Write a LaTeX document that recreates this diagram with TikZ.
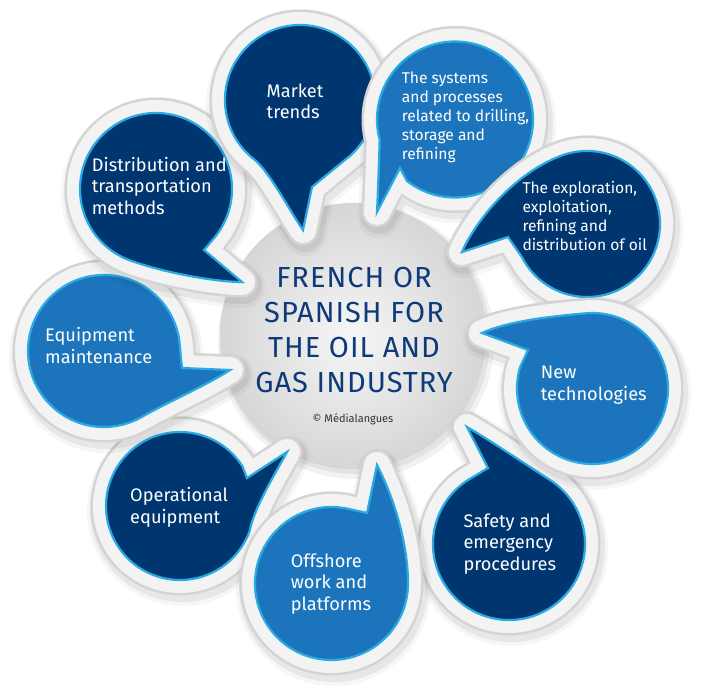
\documentclass[tikz,border=0pt]{standalone}
\usepackage{fontspec}
\setmainfont{Fira Sans}
\usetikzlibrary{calc}
\definecolor{navy}{RGB}{0,54,112}
\definecolor{midblue}{RGB}{28,117,188}
\definecolor{cyanl}{RGB}{41,171,226}
\definecolor{ringout}{RGB}{212,212,212}
\definecolor{ringin}{RGB}{243,243,243}
\definecolor{titlec}{RGB}{14,58,122}
\definecolor{discgrey}{RGB}{214,214,214}
\definecolor{disclight}{RGB}{246,246,246}

% #1 centre, #2 radius, #3 rejoin angle, #4 end angle of arc, #5 c1, #6 c2, #7 tip, #8 notch
\newcommand\bubshape[8]{($(#1)+(#3:#2)$) arc[start angle=#3, end angle=#4, radius=#2] .. controls (#5) and (#6) .. (#7) -- (#8) -- cycle}
\newcommand\bubble[9]{%
  \path[fill=black, draw=black, opacity=0.035, line width=42, line join=round, shift={(2,5)}] \bubshape{#1}{#2}{#3}{#4}{#5}{#6}{#7}{#8};
  \path[fill=black, draw=black, opacity=0.06, line width=36, line join=round, shift={(2,4)}] \bubshape{#1}{#2}{#3}{#4}{#5}{#6}{#7}{#8};
  \path[fill=ringout, draw=ringout, line width=31, line join=round] \bubshape{#1}{#2}{#3}{#4}{#5}{#6}{#7}{#8};
  \path[fill=ringin, draw=ringin, line width=26, line join=round] \bubshape{#1}{#2}{#3}{#4}{#5}{#6}{#7}{#8};
  \path[fill=#9, draw=cyanl, line width=2.2, line join=miter] \bubshape{#1}{#2}{#3}{#4}{#5}{#6}{#7}{#8};
}

% multi-line nodes: the base anchor is the baseline of the LAST line
\tikzset{
  bigtxt/.style={text=white, align=left, inner sep=0pt, anchor=base west, font=\fontsize{18.2}{21.5}\selectfont},
  smalltxt/.style={text=white, align=left, inner sep=0pt, anchor=base west, font=\fontsize{15.6}{19.1}\selectfont},
  titletxt/.style={text=titlec, align=center, inner sep=0pt, anchor=base, font=\fontsize{29}{35}\selectfont\addfontfeature{LetterSpace=3.5}},
}

\begin{document}
\begin{tikzpicture}[x=1pt, y=-1pt]
\useasboundingbox (0,0) rectangle (701,692);
\fill[white] (0,0) rectangle (701,692);

% central disc
\fill[black, opacity=0.05] (356,341) circle[radius=138];
\fill[black, opacity=0.06] (355,339) circle[radius=135];
\shade[inner color=disclight, outer color=discgrey] (353,336) circle[radius=133];

% bubbles
\bubble{180,506}{74}{-32.6}{-340}{254,507.5}{277.6,469.6}{287,452}{247,478}{navy}
\bubble{104,351}{76}{-3}{-300}{168,402}{209,384}{230,370}{182,368}{midblue}
\bubble{156,189}{76}{40}{-250}{163,272.4}{215,282}{242,282}{204,250}{navy}
\bubble{300,100}{75}{47}{-232}{269.6,171.4}{291.4,213.8}{303,230}{312,187}{navy}
\bubble{455,119.5}{78}{128}{-195}{379,165}{378,190}{377,212}{400,168}{midblue}
\bubble{587,224}{73}{153}{-110}{515,172.5}{476,219.8}{462,252}{508,237}{navy}
\bubble{509,544}{76}{-121}{-417}{529.4,466.7}{484.4,436.8}{467,427}{488,468}{navy}
\bubble{592.5,388.5}{75.5}{196.5}{-95}{556,316}{509,320.4}{482,333}{528,350}{midblue}
\bubble{331.5,583.5}{76.5}{-78}{-360}{408,545}{395,500}{377,465}{367,513}{midblue}

% texts (positions = baseline of last line)
\node[titletxt] (title) at (354,392.3) {FRENCH OR\\SPANISH FOR\\THE OIL AND\\GAS INDUSTRY};
\node[text=black!80, inner sep=0pt, anchor=base, font=\fontsize{11}{13}\selectfont] (copy) at (353,422.7) {© Médialangues};

\node[bigtxt] (market) at (266.5,119) {Market\\trends};
\node[smalltxt] (systems) at (401.7,160) {The systems\\and processes\\related to drilling,\\storage and\\refining};
\node[smalltxt] (explor) at (522.3,250.7) {The exploration,\\exploitation,\\refining and\\distribution of oil};
\node[bigtxt] (newtech) at (540.7,400) {New\\technologies};
\node[bigtxt] (safety) at (463.3,570) {Safety and\\emergency\\procedures};
\node[bigtxt] (offshore) at (290.7,610) {Offshore\\work and\\platforms};
\node[bigtxt] (operat) at (130,523.3) {Operational\\equipment};
\node[bigtxt] (equip) at (45,363.3) {Equipment\\maintenance};
\node[bigtxt] (distrib) at (91.7,214.3) {Distribution and\\transportation\\methods};
\end{tikzpicture}
\end{document}
